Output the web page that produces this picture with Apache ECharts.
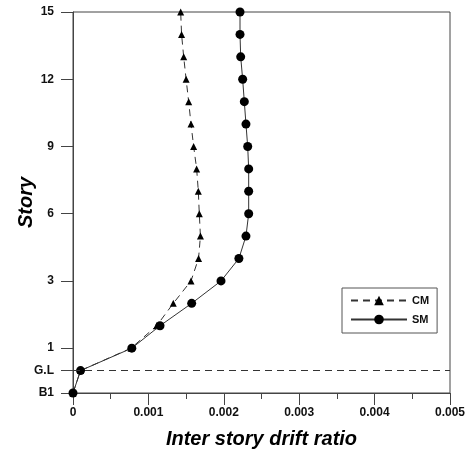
<!DOCTYPE html>
<html>
<head>
<meta charset="utf-8">
<script src="https://cdn.jsdelivr.net/npm/echarts/dist/echarts.min.js"></script>
<style>
  html, body { margin: 0; padding: 0; background: #ffffff; }
</style>
</head>
<body>
<div id="chart" style="width: 475px; height: 455px;"></div>
<script>
// floor levels, bottom to top (evenly spaced on the chart)
var levels = [0, 1, 2, 3, 4, 5, 6, 7, 8, 9, 10, 11, 12, 13, 14, 15, 16, 17];
// which levels get a tick label, and what it says
var tickLevels = [0, 1, 2, 5, 8, 11, 14, 17];
var tickLabels = ['B1', 'G.L', '1', '3', '6', '9', '12', '15'];

// inter story drift ratio per level
var cmDrift = [0, 0.0001, 0.00077, 0.00111, 0.00133, 0.001565, 0.001665, 0.00169, 0.001675,
  0.001662, 0.00164, 0.0016, 0.001565, 0.001534, 0.0015, 0.001468, 0.00144, 0.001428];
var smDrift = [0, 0.0001, 0.00078, 0.001154, 0.001574, 0.001963, 0.0022, 0.002294, 0.00233,
  0.00233, 0.00233, 0.002317, 0.002294, 0.002272, 0.00225, 0.002224, 0.002215, 0.002215];

var groundLevel = 1;

function pairs(vals) {
  return vals.map(function (v, i) { return [v, levels[i]]; });
}

var font = 'Liberation Sans, Arial, sans-serif';

var chart = echarts.init(document.getElementById('chart'));
chart.setOption({
  animation: false,
  backgroundColor: '#ffffff',
  grid: {
    left: 73, right: 25, top: 12, bottom: 62,
    containLabel: false,
    outerBoundsMode: 'none',
    show: true,
    borderColor: '#444',
    borderWidth: 1
  },
  legend: {
    orient: 'vertical',
    left: 342, top: 288,
    padding: [7, 8, 8, 8],
    itemWidth: 56, itemHeight: 12, itemGap: 8,
    borderColor: '#555', borderWidth: 1,
    backgroundColor: '#fff',
    textStyle: { fontFamily: font, fontWeight: 'bold', fontSize: 11, color: '#111', padding: [0, 0, 0, 0] },
    data: ['CM', 'SM']
  },
  xAxis: {
    type: 'value',
    min: 0, max: 0.005, interval: 0.001,
    name: 'Inter story drift ratio',
    nameLocation: 'middle',
    nameGap: 36,
    nameMoveOverlap: false,
    nameTextStyle: { fontFamily: font, fontSize: 20, fontWeight: 'bold', fontStyle: 'italic', color: '#000' },
    axisLine: { show: true, lineStyle: { color: '#444', width: 1 } },
    axisTick: { show: true, length: 12, lineStyle: { color: '#444' } },
    minorTick: { show: true, splitNumber: 2, length: 6, lineStyle: { color: '#444' } },
    splitLine: { show: false },
    axisLabel: {
      margin: 14, fontFamily: font, fontSize: 12, fontWeight: 'bold', color: '#111',
      formatter: function (v) { return v === 0 ? '0' : v.toFixed(3); }
    }
  },
  yAxis: {
    type: 'value',
    min: 0, max: 17, interval: 1,
    name: 'Story',
    nameLocation: 'middle',
    nameGap: 37,
    nameMoveOverlap: false,
    nameTextStyle: { fontFamily: font, fontSize: 20, fontWeight: 'bold', fontStyle: 'italic', color: '#000' },
    axisLine: { show: true, lineStyle: { color: '#444', width: 1 } },
    axisTick: { show: true, length: 12, customValues: tickLevels, lineStyle: { color: '#444' } },
    splitLine: { show: false },
    axisLabel: {
      margin: 19, fontFamily: font, fontSize: 12, fontWeight: 'bold', color: '#111',
      customValues: tickLevels,
      formatter: function (v) {
        var k = tickLevels.indexOf(Math.round(v));
        return k >= 0 ? tickLabels[k] : '';
      }
    }
  },
  series: [
    {
      name: 'CM',
      type: 'line',
      data: pairs(cmDrift),
      symbol: 'triangle',
      symbolSize: 7,
      itemStyle: { color: '#000' },
      lineStyle: { color: '#333', width: 1, type: [7, 5] },
      markLine: {
        silent: true,
        symbol: 'none',
        label: { show: false },
        lineStyle: { color: '#333', width: 1, type: [7, 5] },
        data: [{ yAxis: groundLevel }]
      },
      z: 2
    },
    {
      name: 'SM',
      type: 'line',
      data: pairs(smDrift),
      symbol: 'circle',
      symbolSize: 9,
      itemStyle: { color: '#000' },
      lineStyle: { color: '#333', width: 1 },
      z: 3
    }
  ]
});
</script>
</body>
</html>
